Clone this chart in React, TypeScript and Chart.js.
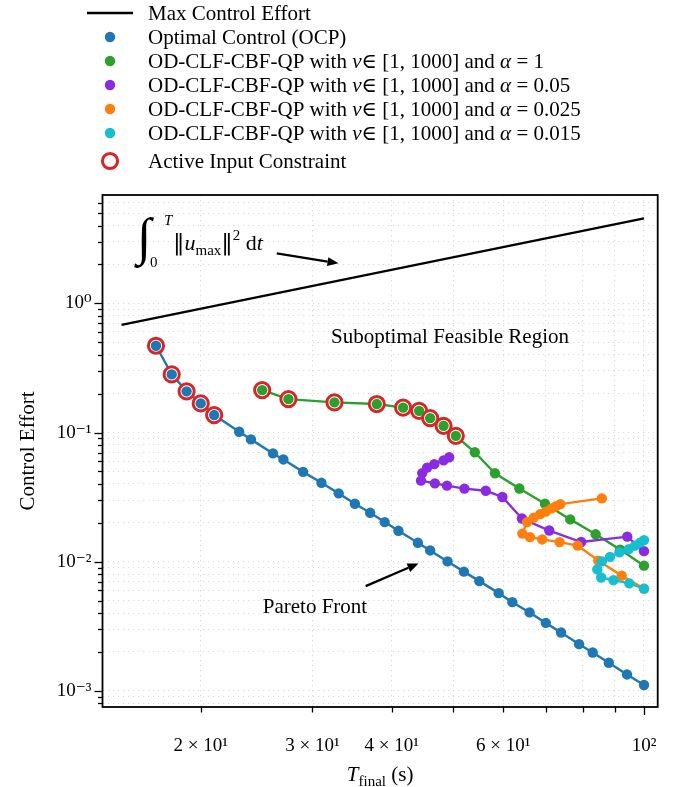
import React, { useEffect, useRef } from 'react';
import { Chart, registerables } from 'chart.js';

Chart.register(...registerables);

// ---------------- data ----------------
const maxEffortT = [15, 100];
const maxEffortC = [0.6825, 4.55];

const ocpT = [17, 18, 19, 20, 21, 23, 24, 26, 27, 29, 31, 33, 35, 37, 39, 41, 44, 46, 49, 52, 55, 59, 62, 66, 70, 74, 79, 83, 88, 94, 100];
const ocpC = [0.4695, 0.2819, 0.2083, 0.1681, 0.1365, 0.1013, 0.0885, 0.0689, 0.0619, 0.0496, 0.0408, 0.0338, 0.0281, 0.0239, 0.02025, 0.01734, 0.014, 0.01222, 0.01005, 0.00838, 0.00707, 0.00571, 0.00486, 0.00405, 0.00336, 0.00283, 0.0023, 0.00198, 0.00165, 0.00134, 0.00111];
const ocpActiveCount = 5;

const a1T = [25.0, 27.5, 32.5, 37.9, 41.7, 44.2, 46.0, 48.3, 50.5, 54.1, 58.2, 63.6, 69.8, 76.5, 83.9, 91.7, 100];
const a1C = [0.2131, 0.1815, 0.1712, 0.1661, 0.156, 0.1471, 0.1293, 0.1127, 0.0942, 0.0703, 0.0484, 0.0369, 0.0281, 0.02125, 0.01629, 0.0124, 0.00932];
const a1ActiveCount = 9;

const a005T = [49.3, 48.3, 46.7, 45.5, 44.7, 44.5, 46.8, 48.9, 52.1, 56.3, 59.8, 64.2, 70.9, 79.6, 94.1, 100];
const a005C = [0.0643, 0.0609, 0.0569, 0.0535, 0.0485, 0.0424, 0.0404, 0.0388, 0.0368, 0.0354, 0.0317, 0.0216, 0.01743, 0.0142, 0.01563, 0.01207];

const a0025T = [85.8, 73.8, 72.7, 71.5, 70.0, 68.6, 67.0, 65.4, 64.3, 66.1, 69.1, 73.6, 78.6, 84.7, 92.2, 100];
const a0025C = [0.0309, 0.0279, 0.0269, 0.02585, 0.0244, 0.02335, 0.02194, 0.02025, 0.0165, 0.0155, 0.01487, 0.01418, 0.01332, 0.0102, 0.0078, 0.00619];

const a0015T = [100, 98.6, 96.8, 94.6, 91.5, 88.4, 85.8, 84.4, 85.6, 89.5, 94.8, 100];
const a0015C = [0.01469, 0.01405, 0.01332, 0.01252, 0.01182, 0.0109, 0.01006, 0.00871, 0.00755, 0.0072, 0.0068, 0.00619];

const xTickValues = [20, 30, 40, 50, 60, 70, 80, 90, 100];
const xTickLabels = ['2 × 10¹', '3 × 10¹', '4 × 10¹', '', '6 × 10¹', '', '', '', '10²'];
const xMajorValues = [100];

const yTickValues = [8e-4, 9e-4, 1e-3, 2e-3, 3e-3, 4e-3, 5e-3, 6e-3, 7e-3, 8e-3, 9e-3, 1e-2, 2e-2, 3e-2, 4e-2, 5e-2, 6e-2, 7e-2, 8e-2, 9e-2, 0.1, 0.2, 0.3, 0.4, 0.5, 0.6, 0.7, 0.8, 0.9, 1, 2, 3, 4, 5, 6];
const yMajorValues = [1e-3, 1e-2, 0.1, 1];
const yMajorLabels = ['10⁻³', '10⁻²', '10⁻¹', '10⁰'];

const seriesLabels = [
  'Max Control Effort',
  'Optimal Control (OCP)',
  'OD-CLF-CBF-QP with ν∈[1, 1000] and α = 1',
  'OD-CLF-CBF-QP with ν∈[1, 1000] and α = 0.05',
  'OD-CLF-CBF-QP with ν∈[1, 1000] and α = 0.025',
  'OD-CLF-CBF-QP with ν∈[1, 1000] and α = 0.015',
  'Active Input Constraint',
];
const alphaTexts = ['1', '0.05', '0.025', '0.015'];

// annotation anchors (data coordinates)
const subText = 'Suboptimal Feasible Region';
const subAt = [32.1, 0.497];
const paretoText = 'Pareto Front';
const paretoAt = [25.05, 0.00402];
const paretoArrow = [36.4, 0.00647, 44.1, 0.0097];
const integralAt = [15.87, 2.587];
const integralArrow = [26.36, 2.439, 32.98, 2.04];

// ---------------- style ----------------
const SERIF = '"Liberation Serif", "Times New Roman", "DejaVu Serif", serif';
const BLUE = '#1f77b4';
const GREEN = '#2ca02c';
const PURPLE = '#8a2be2';
const ORANGE = '#ff7f0e';
const CYAN = '#17becf';
const RED = '#d62728';
const GRID = '#dadada';
const PR = 5.2; // point radius
const LW = 2.4; // series line width
const CR = 7.6; // active circle radius
const CW = 3; // active circle stroke

type Seg = { t: string; it?: boolean; size?: number; dy?: number; fam?: string };

function fontOf(s: Seg, base: number) {
  return `${s.it ? 'italic ' : ''}${s.size ?? base}px ${s.fam ?? SERIF}`;
}

function drawRich(ctx: CanvasRenderingContext2D, x: number, y: number, segs: Seg[], base: number, align: 'left' | 'center' = 'left') {
  const widths = segs.map((s) => {
    ctx.font = fontOf(s, base);
    return ctx.measureText(s.t).width;
  });
  const total = widths.reduce((a, b) => a + b, 0);
  let cx = align === 'center' ? x - total / 2 : x;
  ctx.textAlign = 'left';
  ctx.textBaseline = 'alphabetic';
  segs.forEach((s, i) => {
    ctx.font = fontOf(s, base);
    ctx.fillText(s.t, cx, y + (s.dy ?? 0));
    cx += widths[i];
  });
}

function arrow(ctx: CanvasRenderingContext2D, x1: number, y1: number, x2: number, y2: number) {
  const ang = Math.atan2(y2 - y1, x2 - x1);
  const hl = 11;
  const hw = 4.5;
  const bx = x2 - hl * Math.cos(ang);
  const by = y2 - hl * Math.sin(ang);
  ctx.save();
  ctx.strokeStyle = '#000';
  ctx.fillStyle = '#000';
  ctx.lineWidth = 2.2;
  ctx.beginPath();
  ctx.moveTo(x1, y1);
  ctx.lineTo(bx, by);
  ctx.stroke();
  ctx.beginPath();
  ctx.moveTo(x2, y2);
  ctx.lineTo(bx + hw * Math.sin(ang), by - hw * Math.cos(ang));
  ctx.lineTo(bx - hw * Math.sin(ang), by + hw * Math.cos(ang));
  ctx.closePath();
  ctx.fill();
  ctx.restore();
}

const pts = (xs: number[], ys: number[]) => xs.map((x, i) => ({ x, y: ys[i] }));

const decorPlugin = {
  id: 'decor',
  afterDatasetsDraw(chart: any) {
    const ctx: CanvasRenderingContext2D = chart.ctx;
    const xs = chart.scales.x;
    const ys = chart.scales.y;
    const px = (v: number) => xs.getPixelForValue(v);
    const py = (v: number) => ys.getPixelForValue(v);
    ctx.save();
    ctx.fillStyle = '#000';
    drawRich(ctx, px(subAt[0]), py(subAt[1]), [{ t: subText }], 21);
    drawRich(ctx, px(paretoAt[0]), py(paretoAt[1]), [{ t: paretoText }], 21);
    arrow(ctx, px(paretoArrow[0]), py(paretoArrow[1]), px(paretoArrow[2]), py(paretoArrow[3]));
    const ax = px(integralAt[0]);
    const ay = py(integralAt[1]);
    ctx.font = `52px ${SERIF}`;
    ctx.textBaseline = 'alphabetic';
    ctx.textAlign = 'left';
    ctx.fillText('∫', ax, ay + 4);
    drawRich(ctx, ax + 27, ay - 25, [{ t: 'T', it: true }], 15);
    drawRich(ctx, ax + 13, ay + 17, [{ t: '0' }], 15);
    drawRich(ctx, ax + 36, ay, [
      { t: '‖', size: 23, fam: '"DejaVu Serif", serif' },
      { t: 'u', it: true, size: 22 },
      { t: 'max', size: 15, dy: 5 },
      { t: '‖', size: 23, fam: '"DejaVu Serif", serif' },
      { t: '2', size: 15, dy: -10 },
      { t: ' d', size: 22 },
      { t: 't', it: true, size: 22 },
    ], 22);
    arrow(ctx, px(integralArrow[0]), py(integralArrow[1]), px(integralArrow[2]), py(integralArrow[3]));
    ctx.restore();
  },
  afterDraw(chart: any) {
    const ctx: CanvasRenderingContext2D = chart.ctx;
    const { left, right, top, bottom } = chart.chartArea;
    const xs = chart.scales.x;
    const ys = chart.scales.y;
    ctx.save();
    ctx.strokeStyle = '#000';
    ctx.lineWidth = 1.3;
    xs.ticks.forEach((t: any) => {
      const x = Math.round(xs.getPixelForValue(t.value)) + 0.5;
      const len = xMajorValues.includes(t.value) ? 8 : 5.5;
      ctx.beginPath();
      ctx.moveTo(x, bottom);
      ctx.lineTo(x, bottom + len);
      ctx.stroke();
    });
    ys.ticks.forEach((t: any) => {
      const y = Math.round(ys.getPixelForValue(t.value)) + 0.5;
      const major = yMajorValues.some((m) => Math.abs(m - t.value) / m < 1e-6);
      const len = major ? 8 : 4.5;
      ctx.beginPath();
      ctx.moveTo(left, y);
      ctx.lineTo(left - len, y);
      ctx.stroke();
    });
    ctx.lineWidth = 1.8;
    ctx.strokeRect(left, top, right - left, bottom - top);
    ctx.fillStyle = '#000';
    ctx.save();
    ctx.translate(28, (top + bottom) / 2);
    ctx.rotate(-Math.PI / 2);
    ctx.font = `21px ${SERIF}`;
    ctx.textAlign = 'center';
    ctx.textBaseline = 'middle';
    ctx.fillText('Control Effort', 0, 0);
    ctx.restore();
    drawRich(ctx, (left + right) / 2, 781, [
      { t: 'T', it: true },
      { t: 'final', size: 15, dy: 5 },
      { t: ' (s)' },
    ], 21, 'center');
    // legend
    const rows = [13, 37, 61, 85, 109, 133, 161];
    const mx = 110;
    const tx = 148;
    const colors = [BLUE, GREEN, PURPLE, ORANGE, CYAN];
    ctx.strokeStyle = '#000';
    ctx.lineWidth = 2.5;
    ctx.beginPath();
    ctx.moveTo(87, rows[0]);
    ctx.lineTo(133, rows[0]);
    ctx.stroke();
    drawRich(ctx, tx, rows[0] + 7, [{ t: seriesLabels[0] }], 21);
    colors.forEach((c, i) => {
      const y = rows[i + 1];
      ctx.fillStyle = c;
      ctx.beginPath();
      ctx.arc(mx, y, 5.2, 0, Math.PI * 2);
      ctx.fill();
      ctx.fillStyle = '#000';
      if (i === 0) {
        drawRich(ctx, tx, y + 7, [{ t: seriesLabels[1] }], 21);
      } else {
        drawRich(ctx, tx, y + 7, [
          { t: 'OD-CLF-CBF-QP with ' },
          { t: 'ν', it: true },
          { t: '∈ [1, 1000] and ' },
          { t: 'α', it: true },
          { t: ' = ' + alphaTexts[i - 1] },
        ], 21);
      }
    });
    ctx.strokeStyle = RED;
    ctx.lineWidth = CW;
    ctx.fillStyle = '#fff';
    ctx.beginPath();
    ctx.arc(mx, rows[6], CR, 0, Math.PI * 2);
    ctx.fill();
    ctx.stroke();
    ctx.fillStyle = '#000';
    drawRich(ctx, tx, rows[6] + 7, [{ t: seriesLabels[6] }], 21);
    ctx.restore();
  },
};

function seriesDS(label: string, xs: number[], ys: number[], color: string, order: number) {
  return {
    label,
    data: pts(xs, ys),
    showLine: true,
    borderColor: color,
    backgroundColor: color,
    borderWidth: LW,
    pointRadius: PR,
    pointBorderWidth: 0,
    pointBackgroundColor: color,
    order,
  };
}

export default function App() {
  const ref = useRef<HTMLCanvasElement>(null);
  useEffect(() => {
    const canvas = ref.current;
    if (!canvas) return;
    const activeCircles = [
      ...pts(ocpT.slice(0, ocpActiveCount), ocpC.slice(0, ocpActiveCount)),
      ...pts(a1T.slice(0, a1ActiveCount), a1C.slice(0, a1ActiveCount)),
    ];
    const chart = new Chart(canvas, {
      type: 'scatter',
      data: {
        datasets: [
          {
            label: seriesLabels[0],
            data: pts(maxEffortT, maxEffortC),
            showLine: true,
            borderColor: '#000',
            backgroundColor: '#000',
            borderWidth: 2.3,
            pointRadius: 0,
            order: 20,
          },
          seriesDS(seriesLabels[1], ocpT, ocpC, BLUE, 19),
          seriesDS(seriesLabels[2], a1T, a1C, GREEN, 18),
          seriesDS(seriesLabels[3], a005T, a005C, PURPLE, 17),
          seriesDS(seriesLabels[4], a0025T, a0025C, ORANGE, 16),
          seriesDS(seriesLabels[5], a0015T, a0015C, CYAN, 15),
          {
            label: seriesLabels[6],
            data: activeCircles,
            showLine: false,
            pointRadius: CR,
            pointBorderWidth: CW,
            pointBorderColor: RED,
            pointBackgroundColor: '#fff',
            order: 5,
          },
          {
            label: 'OCP active',
            data: pts(ocpT.slice(0, ocpActiveCount), ocpC.slice(0, ocpActiveCount)),
            showLine: false,
            pointRadius: PR,
            pointBorderWidth: 0,
            pointBackgroundColor: BLUE,
            order: 2,
          },
          {
            label: 'alpha 1 active',
            data: pts(a1T.slice(0, a1ActiveCount), a1C.slice(0, a1ActiveCount)),
            showLine: false,
            pointRadius: PR,
            pointBorderWidth: 0,
            pointBackgroundColor: GREEN,
            order: 1,
          },
        ] as any,
      },
      options: {
        animation: false,
        responsive: true,
        maintainAspectRatio: false,
        events: [],
        layout: { padding: { top: 195, right: 23.3, bottom: 0, left: 0 } },
        plugins: { legend: { display: false }, tooltip: { enabled: false }, title: { display: false } },
        scales: {
          x: {
            type: 'logarithmic',
            min: 14.0,
            max: 105.1,
            afterBuildTicks: (s: any) => {
              s.ticks = xTickValues.map((v) => ({ value: v, major: xMajorValues.includes(v) }));
            },
            afterFit: (s: any) => {
              s.height = 80;
              s.paddingLeft = 0;
              s.paddingRight = 0;
              s.paddingTop = 0;
              s.paddingBottom = 0;
            },
            grid: { color: GRID, lineWidth: 1.1, drawTicks: false },
            border: { display: false, dash: [1.2, 3.8] },
            ticks: {
              autoSkip: false,
              maxRotation: 0,
              minRotation: 0,
              padding: 28,
              color: '#000',
              font: { family: SERIF, size: 19 },
              callback: (_v: any, i: number) => xTickLabels[i] ?? '',
            },
          },
          y: {
            type: 'logarithmic',
            min: 7.5e-4,
            max: 6.9,
            afterBuildTicks: (s: any) => {
              s.ticks = yTickValues.map((v) => ({ value: v, major: yMajorValues.includes(v) }));
            },
            afterFit: (s: any) => {
              s.width = 102.5;
              s.paddingLeft = 0;
              s.paddingRight = 0;
              s.paddingTop = 0;
              s.paddingBottom = 0;
            },
            grid: { color: GRID, lineWidth: 1.1, drawTicks: false },
            border: { display: false, dash: [1.2, 3.8] },
            ticks: {
              autoSkip: false,
              padding: 11,
              color: '#000',
              font: { family: SERIF, size: 19 },
              callback: (v: any) => {
                const k = yMajorValues.findIndex((m) => Math.abs(m - Number(v)) / m < 1e-6);
                return k >= 0 ? yMajorLabels[k] : '';
              },
            },
          },
        },
      } as any,
      plugins: [decorPlugin],
    });
    return () => chart.destroy();
  }, []);
  return (
    <div style={{ position: 'fixed', left: 0, top: 0, width: 681, height: 787, background: '#fff' }}>
      <canvas ref={ref} />
    </div>
  );
}
